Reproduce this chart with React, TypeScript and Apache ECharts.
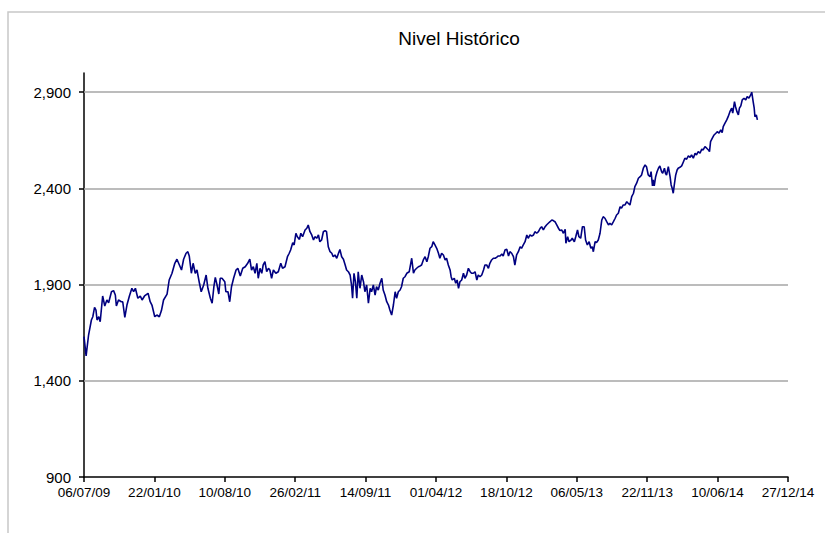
import React, { useEffect, useRef } from "react";
import * as echarts from "echarts";

// Series start date (day 0 of the x axis)
const startDateUTC = Date.UTC(2009, 6, 6);
const axisSpanDays = 2000;
const tickStepDays = 200;

// Y axis
const yMin = 900;
const yMax = 3000;
const yStep = 500;
const yTickValues = [900, 1400, 1900, 2400, 2900];
const gridLevels = [1400, 1900, 2400, 2900];

const chartTitle = "Nivel Histórico";

// [days since 06/07/09, level]
const levelHistory2009: [number, number][] = [
  [0, 1630], [6, 1530], [13, 1638], [21, 1716], [25, 1733], [30, 1782], [34, 1768], [37, 1716],
  [42, 1733], [46, 1707], [53, 1841], [59, 1789], [65, 1820], [70, 1806], [78, 1863], [84, 1869],
  [89, 1846], [92, 1789], [98, 1820], [106, 1811], [110, 1811], [116, 1730], [122, 1794], [129, 1841],
  [136, 1881], [141, 1863], [146, 1881], [153, 1829], [160, 1841], [165, 1820], [172, 1841],
];
const levelHistory2010: [number, number][] = [
  [182, 1855], [188, 1811], [193, 1794], [201, 1733], [207, 1742], [214, 1733], [220, 1765],
  [226, 1820], [236, 1851], [242, 1924], [250, 1959], [258, 2011], [264, 2032], [271, 2002],
  [277, 1976], [283, 2032], [290, 2063], [295, 2071], [299, 2049], [305, 1959], [310, 2011],
  [316, 1959], [321, 1976], [328, 1907], [333, 1863], [340, 1898], [347, 1950], [352, 1881],
  [359, 1829], [364, 1803], [369, 1889], [373, 1938], [378, 1898], [383, 1851], [387, 1933],
  [392, 1933], [400, 1915], [403, 1863], [409, 1863], [414, 1811], [419, 1889], [425, 1933],
  [432, 1976], [437, 1985], [444, 1945], [451, 1985], [458, 1993], [465, 2011], [471, 2032],
  [476, 1976], [481, 1993], [486, 1959], [491, 2011], [495, 1933], [500, 1985], [505, 1959],
  [509, 2002], [514, 2019], [519, 1967], [524, 1985], [528, 1976], [533, 1933], [538, 1976],
];
const levelHistory2011: [number, number][] = [
  [545, 1959], [552, 1967], [559, 2011], [564, 1985], [571, 1993], [578, 2045], [583, 2063],
  [587, 2080], [593, 2118], [597, 2106], [602, 2167], [606, 2149], [612, 2135], [616, 2167],
  [621, 2149], [628, 2184], [633, 2193], [637, 2210], [642, 2175], [647, 2158], [652, 2132],
  [656, 2149], [661, 2141], [666, 2158], [670, 2123], [675, 2132], [680, 2175], [685, 2181],
  [689, 2175], [694, 2097], [699, 2071], [704, 2063], [708, 2045], [713, 2054], [718, 2037],
  [723, 2063], [727, 2083], [732, 2045], [737, 2032], [742, 2002], [746, 1976], [751, 1967],
  [756, 1950], [760, 1898], [763, 1829], [767, 1959], [771, 1915], [775, 1829], [779, 1967],
  [784, 1881], [789, 1950], [794, 1915], [798, 1863], [803, 1898], [808, 1803], [813, 1881],
  [817, 1863], [822, 1898], [827, 1846], [831, 1889], [836, 1872], [841, 1907], [846, 1933],
  [850, 1872], [855, 1846], [860, 1811], [865, 1794], [869, 1768], [874, 1742], [879, 1794],
  [884, 1863], [888, 1829], [893, 1863], [898, 1872],
];
const levelHistory2012: [number, number][] = [
  [902, 1889], [907, 1933], [912, 1941], [917, 1959], [924, 1967], [931, 2037], [936, 1959],
  [940, 1976], [945, 1985], [950, 1993], [955, 1997], [959, 2002], [964, 2028], [969, 2045],
  [974, 2019], [978, 2045], [983, 2089], [988, 2097], [992, 2123], [997, 2106], [1002, 2089],
  [1007, 2063], [1011, 2037], [1016, 2063], [1021, 2054], [1026, 2028], [1030, 2037], [1035, 2002],
  [1040, 1976], [1043, 1941], [1046, 1924], [1052, 1933], [1056, 1907], [1060, 1924], [1064, 1881],
  [1068, 1915], [1073, 1924], [1078, 1959], [1082, 1933], [1087, 1950], [1092, 1985], [1097, 1967],
  [1101, 1959], [1106, 1959], [1111, 1967], [1116, 1924], [1120, 1950], [1125, 1941], [1130, 1950],
  [1135, 1976], [1139, 2002], [1144, 2002], [1149, 1985], [1153, 2011], [1158, 2028], [1163, 2037],
  [1168, 2037], [1172, 2042], [1177, 2049], [1182, 2049], [1187, 2059], [1191, 2049], [1196, 2080],
  [1201, 2084], [1206, 2049], [1210, 2071], [1215, 2063], [1220, 2045], [1224, 2002], [1229, 2054],
  [1234, 2071], [1239, 2097], [1243, 2089], [1248, 2106], [1253, 2123], [1258, 2158], [1262, 2141],
];
const levelHistory2013: [number, number][] = [
  [1267, 2158], [1272, 2153], [1277, 2158], [1281, 2175], [1286, 2167], [1291, 2175], [1296, 2193],
  [1300, 2201], [1305, 2184], [1310, 2201], [1314, 2210], [1319, 2219], [1324, 2227], [1329, 2236],
  [1333, 2233], [1338, 2227], [1343, 2210], [1348, 2193], [1352, 2181], [1357, 2184], [1362, 2167],
  [1367, 2188], [1369, 2115], [1374, 2149], [1378, 2123], [1384, 2132], [1387, 2141], [1393, 2123],
  [1397, 2149], [1402, 2184], [1406, 2149], [1411, 2141], [1416, 2201], [1421, 2201], [1425, 2132],
  [1430, 2106], [1435, 2123], [1440, 2089], [1444, 2097], [1447, 2071], [1452, 2123], [1456, 2118],
  [1461, 2132], [1466, 2167], [1471, 2236], [1475, 2253], [1480, 2245], [1485, 2227], [1490, 2210],
  [1494, 2219], [1499, 2210], [1504, 2227], [1509, 2245], [1513, 2262], [1518, 2271], [1523, 2305],
  [1527, 2297], [1532, 2314], [1537, 2314], [1542, 2331], [1546, 2323], [1551, 2314], [1556, 2357],
  [1561, 2375], [1565, 2409], [1570, 2427], [1575, 2453], [1580, 2461], [1584, 2470], [1589, 2505],
  [1594, 2522], [1598, 2513], [1603, 2470], [1608, 2461], [1611, 2487], [1615, 2413], [1617, 2444],
  [1620, 2413], [1624, 2461],
];
const levelHistory2014: [number, number][] = [
  [1628, 2487], [1632, 2505], [1636, 2517], [1641, 2487], [1644, 2479], [1649, 2505], [1652, 2479],
  [1655, 2470], [1660, 2513], [1665, 2461], [1668, 2418], [1671, 2401], [1674, 2375], [1677, 2418],
  [1681, 2470], [1685, 2496], [1688, 2505], [1693, 2510], [1698, 2517], [1703, 2539], [1707, 2557],
  [1712, 2552], [1717, 2569], [1722, 2562], [1726, 2574], [1731, 2557], [1736, 2583], [1740, 2574],
  [1745, 2591], [1750, 2583], [1755, 2604], [1759, 2600], [1764, 2617], [1769, 2609], [1774, 2600],
  [1777, 2591], [1780, 2643], [1785, 2661], [1790, 2678], [1795, 2687], [1799, 2695], [1804, 2687],
  [1809, 2704], [1813, 2690], [1816, 2721], [1821, 2739], [1826, 2756], [1830, 2773], [1835, 2799],
  [1840, 2817], [1843, 2791], [1848, 2851], [1851, 2825], [1855, 2799], [1859, 2782], [1862, 2817],
  [1866, 2829], [1870, 2860], [1875, 2869], [1880, 2860], [1884, 2877], [1889, 2869], [1894, 2886],
  [1897, 2900], [1901, 2851], [1904, 2817], [1906, 2773], [1910, 2782], [1913, 2756],
];

const FONT = "'Liberation Sans', Arial, sans-serif";

function pad2(n: number) {
  return n < 10 ? "0" + n : String(n);
}
function dayLabel(v: number) {
  const d = new Date(startDateUTC + Math.round(v) * 86400000);
  return pad2(d.getUTCDate()) + "/" + pad2(d.getUTCMonth() + 1) + "/" + pad2(d.getUTCFullYear() % 100);
}

export default function App() {
  const ref = useRef<HTMLDivElement>(null);
  useEffect(() => {
    if (!ref.current) return;
    const chart = echarts.init(ref.current, null, { renderer: "svg" });
    const data = [
      ...levelHistory2009,
      ...levelHistory2010,
      ...levelHistory2011,
      ...levelHistory2012,
      ...levelHistory2013,
      ...levelHistory2014,
    ];
    chart.setOption({
      animation: false,
      backgroundColor: "#ffffff",
      title: {
        text: chartTitle,
        left: 454,
        top: 24,
        textAlign: "center",
        textStyle: { fontFamily: FONT, fontSize: 19, fontWeight: "normal", color: "#000" },
      },
      graphic: [
        {
          type: "rect",
          shape: { x: 8, y: 12, width: 900, height: 700 },
          style: { fill: "none", stroke: "#c8c8c8", lineWidth: 1.5 },
          silent: true,
          z: -10,
        },
      ],
      grid: { left: 84, right: 37, top: 73, bottom: 56, containLabel: false },
      xAxis: {
        type: "value",
        min: 0,
        max: axisSpanDays,
        interval: tickStepDays,
        splitLine: { show: false },
        axisLine: { show: true, onZero: false, lineStyle: { color: "#000", width: 1.5 } },
        axisTick: { show: true, length: 5, lineStyle: { color: "#000", width: 1.5 } },
        axisLabel: {
          formatter: (v: number) => dayLabel(v),
          fontFamily: FONT,
          fontSize: 13.5,
          color: "#000",
          margin: 8,
          showMaxLabel: true,
          showMinLabel: true,
        },
      },
      yAxis: {
        type: "value",
        min: yMin,
        max: yMax,
        interval: yStep,
        axisLine: { show: true, lineStyle: { color: "#000", width: 1.5 } },
        axisTick: {
          show: true,
          length: 5,
          customValues: yTickValues,
          lineStyle: { color: "#000", width: 1.5 },
        },
        axisLabel: {
          customValues: yTickValues,
          formatter: (v: number) => v.toLocaleString("en-US"),
          fontFamily: FONT,
          fontSize: 15,
          color: "#000",
          margin: 13,
        },
        splitLine: { show: false },
      },
      series: [
        {
          type: "line",
          data,
          showSymbol: false,
          symbol: "none",
          lineStyle: { color: "#000080", width: 1.6 },
          z: 5,
          markLine: {
            silent: true,
            symbol: ["none", "none"],
            label: { show: false },
            lineStyle: { color: "#a6a6a6", width: 1.5, type: "solid" },
            emphasis: { disabled: true },
            data: gridLevels.map((v) => ({ yAxis: v })),
            z: 1,
          },
        },
      ],
    });
    return () => chart.dispose();
  }, []);
  return (
    <div
      ref={ref}
      style={{ position: "absolute", left: 0, top: 0, width: 825, height: 533, background: "#fff" }}
    />
  );
}
